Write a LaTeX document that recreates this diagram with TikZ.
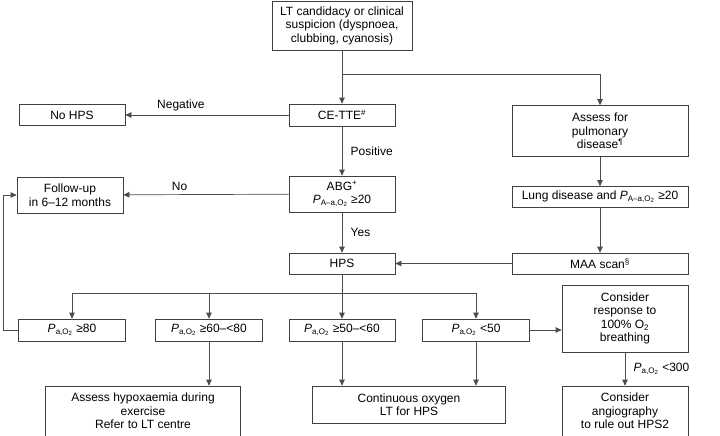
\documentclass[tikz,border=0pt]{standalone}
\usepackage{fontspec}
\setmainfont{Liberation Sans}
\usetikzlibrary{arrows.meta,positioning}

\newcommand{\paotwo}{\textit{P}\textsubscript{a,O\textsubscript{2}}}
\newcommand{\paatwo}{\textit{P}\textsubscript{A–a,O\textsubscript{2}}}

\begin{document}
\begin{tikzpicture}[x=1pt, y=-1pt,
  every node/.style={font=\fontsize{12}{13.5}\selectfont},
  box/.style={rectangle, draw=black!75, line width=0.7pt, inner sep=1pt, align=center},
  flow/.style={draw=black!70, line width=0.7pt, -{Triangle[length=6pt,width=5.5pt]}},
  tag/.style={right, xshift=5pt}]
\useasboundingbox (0,0) rectangle (720,436);

% top of the chart
\node[box, minimum width=140pt, minimum height=49pt] (start) at (342,25.5) {LT candidacy or clinical\\suspicion (dyspnoea,\\clubbing, cyanosis)};
\node[box, minimum width=106pt, minimum height=22pt] (cette) at (342,115) {CE-TTE\textsuperscript{\#}};
\node[box, minimum width=106pt, minimum height=21pt] (nohps) at (72,115) {No HPS};
\node[box, minimum width=176pt, minimum height=51pt] (assess) at (600,131) {Assess for\\pulmonary\\disease\textsuperscript{¶}};
\node[box, minimum width=106pt, minimum height=36pt] (abg) at (342,194) {ABG\textsuperscript{+}\\\paatwo{} ≥20};
\node[box, minimum width=106pt, minimum height=36pt] (follow) at (70,195) {Follow-up\\in 6–12 months};
\node[box, minimum width=176pt, minimum height=21pt] (lung) at (600,197) {Lung disease and \paatwo{} ≥20};
\node[box, minimum width=106pt, minimum height=21pt] (hps) at (342,263.5) {HPS};
\node[box, minimum width=176pt, minimum height=21pt] (maa) at (600,263.5) {MAA scan\textsuperscript{§}};

% oxygen levels
\node[box, minimum width=107pt, minimum height=22pt] (pa80) at (72,330) {\paotwo{} ≥80};
\node[box, minimum width=107pt, minimum height=22pt] (pa60) at (209,330) {\paotwo{} ≥60–<80};
\node[box, minimum width=106pt, minimum height=22pt] (pa50) at (342,330) {\paotwo{} ≥50–<60};
\node[box, minimum width=107pt, minimum height=22pt] (palow) at (476,330) {\paotwo{} <50};
\node[box, minimum width=126pt, minimum height=67pt] (consider) at (625,318.5) {Consider\\response to\\100\% O\textsubscript{2}\\breathing};

% bottom row
\node[box, minimum width=195pt, minimum height=50pt] (hypox) at (143,411) {Assess hypoxaemia during\\exercise\\Refer to LT centre};
\node[box, minimum width=193pt, minimum height=37pt] (oxygen) at (409,404.5) {Continuous oxygen\\LT for HPS};
\node[box, minimum width=126pt, minimum height=50pt] (angio) at (625,411) {Consider\\angiography\\to rule out HPS2};

\coordinate (split) at (342,74);
\coordinate (fork) at (342,293);
\coordinate (back) at (3,195);

\draw[flow] (start) -- (cette);
\draw[flow] (split) -| (assess);
\draw[flow] (cette) -- node[above, pos=0.66] {Negative} (nohps);
\draw[flow] (cette) -- node[tag] {Positive} (abg);
\draw[flow] (abg) -- node[above, pos=0.66] {No} (follow);
\draw[flow] (abg) -- node[tag] {Yes} (hps);
\draw[flow] (assess) -- (lung);
\draw[flow] (lung) -- (maa);
\draw[flow] (maa) -- (hps);

\draw[flow] (hps) -- (pa50);
\draw[flow] (fork) -| (pa80);
\draw[flow] (fork) -| (pa60);
\draw[flow] (fork) -| (palow);
\draw[flow] (pa80.west) -| (back) -- (follow.west);

\draw[flow] (pa60) -- (pa60 |- hypox.north);
\draw[flow] (pa50) -- (pa50 |- oxygen.north);
\draw[flow] (palow) -- (palow |- oxygen.north);
\draw[flow] (palow.east) -- (palow.east -| consider.west);
\draw[flow] (consider) -- node[tag] {\paotwo{} <300} (angio);
\end{tikzpicture}
\end{document}
